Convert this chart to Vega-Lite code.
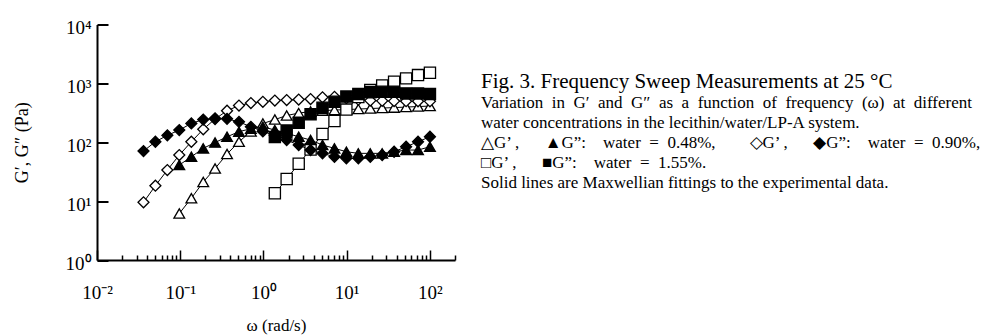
{
  "$schema": "https://vega.github.io/schema/vega-lite/v6.json",
  "autosize": {"type": "none"},
  "width": 358,
  "height": 235.5,
  "padding": {"left": 97, "top": 24.5, "right": 531, "bottom": 75},
  "background": "white",
  "config": {"view": {"stroke": null}, "font": "Liberation Serif"},
  "title": {
    "text": "Fig. 3. Frequency Sweep Measurements at 25 °C",
    "subtitle": [
      "Variation\u2002in\u2002G′\u2002and\u2002G″\u2002as\u2002a\u2002function\u2002of\u2002frequency\u2002(ω)\u2002at\u2002different",
      "water concentrations in the lecithin/water/LP-A system.",
      "△G’ ,\u2003\u2002▲G”:\u2003water\u2002=\u20020.48%,\u2003\u2003◇G’ ,\u2003\u2002◆G”:\u2003water\u2002=\u20020.90%,",
      "□G’ ,\u2003\u2002■G”:\u2003water\u2002=\u20021.55%.",
      "Solid lines are Maxwellian fittings to the experimental data."
    ],
    "anchor": "start",
    "frame": "group",
    "font": "Liberation Serif",
    "fontSize": 21,
    "fontWeight": "normal",
    "color": "black",
    "subtitleFont": "Liberation Serif",
    "subtitleFontSize": 17,
    "subtitleColor": "black",
    "subtitleLineHeight": 20.2,
    "subtitlePadding": 3,
    "dx": 384,
    "dy": 177
  },
  "data": {"values": [
    {"water":"0.48%","mod":"G′","omega":0.0974,"G":6.16},
    {"water":"0.48%","mod":"G′","omega":0.136,"G":11.2},
    {"water":"0.48%","mod":"G′","omega":0.189,"G":21.1},
    {"water":"0.48%","mod":"G′","omega":0.262,"G":35.8},
    {"water":"0.48%","mod":"G′","omega":0.365,"G":63.0},
    {"water":"0.48%","mod":"G′","omega":0.508,"G":102},
    {"water":"0.48%","mod":"G′","omega":0.706,"G":152},
    {"water":"0.48%","mod":"G′","omega":0.983,"G":208},
    {"water":"0.48%","mod":"G′","omega":1.37,"G":243},
    {"water":"0.48%","mod":"G′","omega":1.90,"G":284},
    {"water":"0.48%","mod":"G′","omega":2.65,"G":313},
    {"water":"0.48%","mod":"G′","omega":3.68,"G":332},
    {"water":"0.48%","mod":"G′","omega":5.12,"G":345},
    {"water":"0.48%","mod":"G′","omega":7.13,"G":352},
    {"water":"0.48%","mod":"G′","omega":9.91,"G":359},
    {"water":"0.48%","mod":"G′","omega":13.8,"G":366},
    {"water":"0.48%","mod":"G′","omega":19.2,"G":374},
    {"water":"0.48%","mod":"G′","omega":26.7,"G":381},
    {"water":"0.48%","mod":"G′","omega":37.1,"G":388},
    {"water":"0.48%","mod":"G′","omega":51.7,"G":396},
    {"water":"0.48%","mod":"G′","omega":71.9,"G":404},
    {"water":"0.48%","mod":"G′","omega":100,"G":412},
    {"water":"0.90%","mod":"G′","omega":0.0362,"G":9.54},
    {"water":"0.90%","mod":"G′","omega":0.0503,"G":18.3},
    {"water":"0.90%","mod":"G′","omega":0.0700,"G":33.7},
    {"water":"0.90%","mod":"G′","omega":0.0974,"G":60.6},
    {"water":"0.90%","mod":"G′","omega":0.136,"G":102},
    {"water":"0.90%","mod":"G′","omega":0.189,"G":166},
    {"water":"0.90%","mod":"G′","omega":0.262,"G":248},
    {"water":"0.90%","mod":"G′","omega":0.365,"G":343},
    {"water":"0.90%","mod":"G′","omega":0.508,"G":420},
    {"water":"0.90%","mod":"G′","omega":0.706,"G":463},
    {"water":"0.90%","mod":"G′","omega":0.983,"G":487},
    {"water":"0.90%","mod":"G′","omega":1.37,"G":511},
    {"water":"0.90%","mod":"G′","omega":1.90,"G":521},
    {"water":"0.90%","mod":"G′","omega":2.65,"G":531},
    {"water":"0.90%","mod":"G′","omega":3.68,"G":541},
    {"water":"0.90%","mod":"G′","omega":5.12,"G":580},
    {"water":"0.90%","mod":"G′","omega":7.13,"G":590},
    {"water":"0.90%","mod":"G′","omega":9.91,"G":560},
    {"water":"0.90%","mod":"G′","omega":13.8,"G":530},
    {"water":"0.90%","mod":"G′","omega":19.2,"G":510},
    {"water":"0.90%","mod":"G′","omega":26.7,"G":505},
    {"water":"0.90%","mod":"G′","omega":37.1,"G":500},
    {"water":"0.90%","mod":"G′","omega":51.7,"G":498},
    {"water":"0.90%","mod":"G′","omega":71.9,"G":496},
    {"water":"0.90%","mod":"G′","omega":100,"G":495},
    {"water":"1.55%","mod":"G′","omega":1.37,"G":13.6},
    {"water":"1.55%","mod":"G′","omega":1.90,"G":23.7},
    {"water":"1.55%","mod":"G′","omega":2.65,"G":43.2},
    {"water":"1.55%","mod":"G′","omega":3.68,"G":75.2},
    {"water":"1.55%","mod":"G′","omega":5.12,"G":138},
    {"water":"1.55%","mod":"G′","omega":7.13,"G":229},
    {"water":"1.55%","mod":"G′","omega":9.91,"G":359},
    {"water":"1.55%","mod":"G′","omega":13.8,"G":585},
    {"water":"1.55%","mod":"G′","omega":19.2,"G":769},
    {"water":"1.55%","mod":"G′","omega":26.7,"G":918},
    {"water":"1.55%","mod":"G′","omega":37.1,"G":1065},
    {"water":"1.55%","mod":"G′","omega":51.7,"G":1216},
    {"water":"1.55%","mod":"G′","omega":71.9,"G":1383},
    {"water":"1.55%","mod":"G′","omega":100,"G":1514},
    {"water":"0.90%","mod":"G″","omega":0.0362,"G":70.9},
    {"water":"0.90%","mod":"G″","omega":0.0503,"G":102},
    {"water":"0.90%","mod":"G″","omega":0.0700,"G":131},
    {"water":"0.90%","mod":"G″","omega":0.0974,"G":161},
    {"water":"0.90%","mod":"G″","omega":0.136,"G":209},
    {"water":"0.90%","mod":"G″","omega":0.189,"G":243},
    {"water":"0.90%","mod":"G″","omega":0.262,"G":255},
    {"water":"0.90%","mod":"G″","omega":0.365,"G":250},
    {"water":"0.90%","mod":"G″","omega":0.508,"G":222},
    {"water":"0.90%","mod":"G″","omega":0.706,"G":183},
    {"water":"0.90%","mod":"G″","omega":0.983,"G":153},
    {"water":"0.90%","mod":"G″","omega":1.37,"G":130},
    {"water":"0.90%","mod":"G″","omega":1.90,"G":109},
    {"water":"0.90%","mod":"G″","omega":2.65,"G":89.7},
    {"water":"0.90%","mod":"G″","omega":3.68,"G":73.7},
    {"water":"0.90%","mod":"G″","omega":5.12,"G":64.8},
    {"water":"0.90%","mod":"G″","omega":7.13,"G":56.7},
    {"water":"0.90%","mod":"G″","omega":9.91,"G":53.3},
    {"water":"0.90%","mod":"G″","omega":13.8,"G":53.3},
    {"water":"0.90%","mod":"G″","omega":19.2,"G":56.7},
    {"water":"0.90%","mod":"G″","omega":26.7,"G":60.6},
    {"water":"0.90%","mod":"G″","omega":37.1,"G":69.0},
    {"water":"0.90%","mod":"G″","omega":51.7,"G":83.9},
    {"water":"0.90%","mod":"G″","omega":71.9,"G":102},
    {"water":"0.90%","mod":"G″","omega":100,"G":124},
    {"water":"0.48%","mod":"G″","omega":0.0974,"G":41.0},
    {"water":"0.48%","mod":"G″","omega":0.136,"G":56.7},
    {"water":"0.48%","mod":"G″","omega":0.189,"G":78.8},
    {"water":"0.48%","mod":"G″","omega":0.262,"G":98.8},
    {"water":"0.48%","mod":"G″","omega":0.365,"G":124},
    {"water":"0.48%","mod":"G″","omega":0.508,"G":151},
    {"water":"0.48%","mod":"G″","omega":0.706,"G":170},
    {"water":"0.48%","mod":"G″","omega":0.983,"G":183},
    {"water":"0.48%","mod":"G″","omega":1.37,"G":161},
    {"water":"0.48%","mod":"G″","omega":1.90,"G":142},
    {"water":"0.48%","mod":"G″","omega":2.65,"G":124},
    {"water":"0.48%","mod":"G″","omega":3.68,"G":109},
    {"water":"0.48%","mod":"G″","omega":5.12,"G":89.7},
    {"water":"0.48%","mod":"G″","omega":7.13,"G":78.8},
    {"water":"0.48%","mod":"G″","omega":9.91,"G":69.0},
    {"water":"0.48%","mod":"G″","omega":13.8,"G":64.8},
    {"water":"0.48%","mod":"G″","omega":19.2,"G":64.8},
    {"water":"0.48%","mod":"G″","omega":26.7,"G":64.8},
    {"water":"0.48%","mod":"G″","omega":37.1,"G":69.0},
    {"water":"0.48%","mod":"G″","omega":51.7,"G":73.7},
    {"water":"0.48%","mod":"G″","omega":71.9,"G":73.7},
    {"water":"0.48%","mod":"G″","omega":100,"G":83.9},
    {"water":"1.55%","mod":"G″","omega":1.37,"G":123},
    {"water":"1.55%","mod":"G″","omega":1.90,"G":158},
    {"water":"1.55%","mod":"G″","omega":2.65,"G":214},
    {"water":"1.55%","mod":"G″","omega":3.68,"G":298},
    {"water":"1.55%","mod":"G″","omega":5.12,"G":385},
    {"water":"1.55%","mod":"G″","omega":7.13,"G":487},
    {"water":"1.55%","mod":"G″","omega":9.91,"G":597},
    {"water":"1.55%","mod":"G″","omega":13.8,"G":658},
    {"water":"1.55%","mod":"G″","omega":19.2,"G":704},
    {"water":"1.55%","mod":"G″","omega":26.7,"G":720},
    {"water":"1.55%","mod":"G″","omega":37.1,"G":720},
    {"water":"1.55%","mod":"G″","omega":51.7,"G":676},
    {"water":"1.55%","mod":"G″","omega":71.9,"G":676},
    {"water":"1.55%","mod":"G″","omega":100,"G":658}
  ]},
  "encoding": {
    "x": {
      "field": "omega",
      "type": "quantitative",
      "scale": {"type": "log", "domain": [0.01, 200], "nice": false},
      "axis": {
        "title": "ω (rad/s)",
        "titleFont": "Liberation Serif",
        "titleFontSize": 17,
        "titleFontWeight": "normal",
        "titleColor": "black",
        "titlePadding": 10,
        "values": [0.01,0.02,0.03,0.04,0.05,0.06,0.07,0.08,0.09,0.1,0.2,0.3,0.4,0.5,0.6,0.7,0.8,0.9,1,2,3,4,5,6,7,8,9,10,20,30,40,50,60,70,80,90,100,200],
        "labelExpr": "abs(log(datum.value)/LN10 - round(log(datum.value)/LN10)) < 0.000001 ? ('10' + ['⁻²','⁻¹','⁰','¹','²','³','⁴'][round(log(datum.value)/LN10) + 2]) : ''",
        "labelFont": "Liberation Serif",
        "labelFontSize": 19,
        "labelColor": "black",
        "labelPadding": 33,
        "labelFlush": false,
        "labelOverlap": false,
        "labelBaseline": "top",
        "grid": false,
        "domainColor": "black",
        "domainWidth": 2,
        "tickColor": "black",
        "tickWidth": 1.5,
        "tickSize": {"condition": {"test": "abs(log(datum.value)/LN10 - round(log(datum.value)/LN10)) < 0.000001", "value": -10}, "value": -5}
      }
    },
    "y": {
      "field": "G",
      "type": "quantitative",
      "scale": {"type": "log", "domain": [1, 10000], "nice": false},
      "axis": {
        "title": "G′, G″ (Pa)",
        "titleFont": "Liberation Serif",
        "titleFontSize": 18,
        "titleFontWeight": "normal",
        "titleColor": "black",
        "titlePadding": 34,
        "values": [1, 10, 100, 1000, 10000],
        "labelExpr": "'10' + ['⁻²','⁻¹','⁰','¹','²','³','⁴'][round(log(datum.value)/LN10) + 2]",
        "labelFont": "Liberation Serif",
        "labelFontSize": 19,
        "labelColor": "black",
        "labelPadding": 17,
        "labelOffset": 3,
        "labelFlush": false,
        "labelOverlap": false,
        "grid": false,
        "domainColor": "black",
        "domainWidth": 2,
        "tickColor": "black",
        "tickWidth": 2,
        "tickSize": -11
      }
    }
  },
  "layer": [
    {
      "mark": {"type": "line", "color": "black", "strokeWidth": 1},
      "encoding": {"detail": [{"field": "water"}, {"field": "mod"}]}
    },
    {
      "mark": {"type": "point", "stroke": "black", "strokeWidth": 1.3, "opacity": 1, "fillOpacity": 1, "strokeOpacity": 1},
      "encoding": {
        "fill": {"field": "mod", "type": "nominal", "scale": {"domain": ["G′", "G″"], "range": ["white", "black"]}, "legend": null},
        "shape": {"field": "water", "type": "nominal", "scale": {"domain": ["0.48%", "0.90%", "1.55%"], "range": ["triangle-up", "diamond", "square"]}, "legend": null},
        "size": {"field": "water", "type": "nominal", "scale": {"domain": ["0.48%", "0.90%", "1.55%"], "range": [115, 125, 95]}, "legend": null}
      }
    }
  ]
}
